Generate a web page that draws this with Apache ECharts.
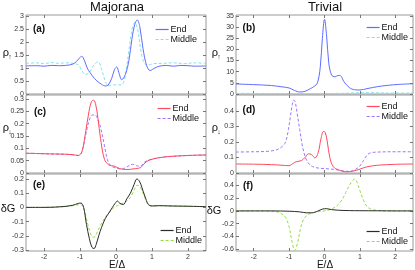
<!DOCTYPE html>
<html><head><meta charset="utf-8">
<script src="https://cdn.jsdelivr.net/npm/echarts@6/dist/echarts.min.js"></script>
<style>html,body{margin:0;padding:0;background:#fff}#c{width:415px;height:270px}</style>
</head><body><div id="c"></div>
<script>
// ---- data ----
const xTicks = [-2, -1, 0, 1, 2];
const aTicks = [0, 0.5, 1, 1.5, 2, 2.5, 3];
const bTicks = [0, 5, 10, 15, 20, 25, 30, 35];
const cTicks = [0, 0.05, 0.1, 0.15, 0.2, 0.25, 0.3];
const dTicks = [0, 0.1, 0.2, 0.3, 0.4];
const eTicks = [-0.3, -0.2, -0.1, 0, 0.1, 0.2];
const fTicks = [-0.6, -0.4, -0.2, 0, 0.2, 0.4];

// (a) Majorana rho_up
const aEndE = [-2.5,-2.2,-2.0,-1.8,-1.6,-1.4,-1.2,-1.1,-1.02,-0.95,-0.88,-0.8,-0.72,-0.6,-0.5,-0.4,-0.3,-0.22,-0.12,-0.04,0.02,0.08,0.16,0.26,0.36,0.44,0.52,0.59,0.66,0.75,0.85,0.95,1.05,1.2,1.4,1.6,1.8,2.0,2.2,2.5];
const aEndY = [1.08,1.09,1.07,1.1,1.09,1.1,1.15,1.25,1.38,1.45,1.3,1.0,0.82,0.6,0.47,0.37,0.31,0.34,0.6,0.95,1.04,0.82,0.55,0.75,1.3,2.1,2.68,2.85,2.6,1.75,1.1,0.9,0.98,1.07,1.1,1.07,1.1,1.09,1.07,1.08];
const aMidE = [-2.5,-2.2,-2.0,-1.8,-1.6,-1.4,-1.2,-1.05,-0.95,-0.85,-0.75,-0.62,-0.5,-0.4,-0.3,-0.22,-0.1,0.05,0.18,0.28,0.36,0.44,0.52,0.6,0.7,0.8,0.9,1.05,1.3,1.6,1.9,2.2,2.5];
const aMidY = [1.18,1.2,1.17,1.21,1.18,1.2,1.18,1.12,0.9,0.75,0.82,1.1,1.24,0.95,0.5,0.32,0.35,0.35,0.38,0.9,1.7,2.45,2.75,2.5,1.6,1.15,1.12,1.17,1.18,1.2,1.17,1.2,1.18];

// (b) Trivial rho_up
const bEndE = [-2.5,-2.0,-1.5,-1.2,-1.0,-0.85,-0.7,-0.55,-0.4,-0.3,-0.2,-0.12,-0.06,0.0,0.06,0.12,0.2,0.3,0.38,0.45,0.55,0.7,0.85,1.0,1.2,1.5,1.8,2.1,2.5];
const bEndY = [4.5,4.2,3.8,3.2,2.7,1.6,0.9,1.2,2.4,3.3,5.0,12,25,33.5,26,14,8.5,7.7,8.3,8.2,5.5,2.9,1.9,1.8,2.4,3.3,3.9,4.3,4.6];
const bMidE = [-2.5,-1.5,-0.5,0.5,1.0,1.3,1.7,2.5];
const bMidY = [0.3,0.25,0.2,0.3,0.55,0.6,0.45,0.4];

// (c) Majorana rho_down
const cEndE = [-2.5,-2.2,-2.0,-1.7,-1.4,-1.2,-1.05,-0.95,-0.85,-0.75,-0.68,-0.62,-0.56,-0.5,-0.43,-0.32,-0.2,-0.05,0.1,0.3,0.5,0.68,0.8,0.92,1.2,1.5,2.0,2.5];
const cEndY = [0.08,0.079,0.078,0.077,0.076,0.074,0.071,0.085,0.16,0.25,0.29,0.295,0.275,0.22,0.14,0.055,0.033,0.028,0.018,0.014,0.017,0.022,0.04,0.052,0.062,0.067,0.071,0.073];
const cMidE = [-2.5,-2.2,-2.0,-1.7,-1.4,-1.2,-1.05,-0.95,-0.85,-0.75,-0.66,-0.58,-0.5,-0.42,-0.32,-0.24,-0.15,0.0,0.15,0.3,0.42,0.5,0.6,0.7,0.8,0.92,1.2,1.5,2.0,2.5];
const cMidY = [0.08,0.079,0.078,0.077,0.076,0.074,0.071,0.085,0.15,0.21,0.235,0.235,0.215,0.18,0.11,0.055,0.03,0.02,0.016,0.024,0.034,0.035,0.028,0.03,0.045,0.053,0.062,0.067,0.071,0.073];

// (d) Trivial rho_down
const dEndE = [-2.5,-2.0,-1.5,-1.2,-1.0,-0.9,-0.8,-0.65,-0.55,-0.45,-0.36,-0.27,-0.18,-0.1,-0.03,0.02,0.08,0.15,0.25,0.4,0.6,0.8,1.0,1.2,1.5,2.0,2.5];
const dEndY = [0.058,0.057,0.054,0.05,0.047,0.06,0.073,0.08,0.1,0.124,0.118,0.097,0.13,0.22,0.268,0.262,0.2,0.1,0.04,0.02,0.008,0.012,0.025,0.04,0.05,0.056,0.058];
const dMidE = [-2.5,-2.0,-1.6,-1.35,-1.2,-1.1,-1.02,-0.96,-0.91,-0.87,-0.83,-0.77,-0.7,-0.62,-0.52,-0.4,-0.25,-0.1,0.1,0.3,0.5,0.7,0.85,1.0,1.1,1.2,1.3,1.5,2.0,2.5];
const dMidY = [0.135,0.137,0.14,0.15,0.17,0.2,0.28,0.37,0.44,0.47,0.46,0.38,0.28,0.17,0.09,0.05,0.035,0.03,0.027,0.022,0.015,0.01,0.02,0.045,0.08,0.115,0.13,0.135,0.137,0.137];

// (e) Majorana deltaG
const eE = [-2.5,-2.0,-1.5,-1.2,-1.05,-0.97,-0.9,-0.82,-0.74,-0.67,-0.61,-0.55,-0.48,-0.4,-0.3,-0.2,-0.1,-0.02,0.04,0.1,0.2,0.3,0.4,0.5,0.58,0.65,0.72,0.8,0.9,1.0,1.2,1.5,2.0,2.5];
const eEndY = [0.0,0.0,0.005,0.015,0.028,0.03,0.0,-0.12,-0.22,-0.28,-0.29,-0.26,-0.2,-0.14,-0.08,-0.04,0.0,0.03,0.045,0.03,0.02,0.06,0.1,0.16,0.2,0.185,0.14,0.08,0.02,0.01,0.012,0.01,0.008,0.005];
const eMidY = [0.0,0.0,0.005,0.012,0.018,0.018,0.0,-0.08,-0.16,-0.205,-0.21,-0.19,-0.15,-0.11,-0.07,-0.04,-0.01,0.005,0.012,0.02,0.03,0.045,0.07,0.12,0.155,0.15,0.12,0.07,0.02,0.01,0.012,0.01,0.008,0.005];

// (f) Trivial deltaG
const fEndE = [-2.5,-1.5,-1.0,-0.7,-0.5,-0.35,-0.2,-0.05,0.05,0.2,0.4,0.7,1.0,1.5,2.0,2.5];
const fEndY = [0,0,-0.005,-0.015,-0.03,-0.03,-0.005,0.03,0.035,0.02,0.01,0.005,0.003,0.002,0,0];
const fMidE = [-2.5,-2.0,-1.5,-1.3,-1.2,-1.1,-1.0,-0.92,-0.84,-0.76,-0.68,-0.6,-0.5,-0.35,-0.15,0.05,0.2,0.35,0.5,0.6,0.7,0.8,0.85,0.92,1.0,1.1,1.2,1.35,1.6,2.0,2.5];
const fMidY = [0,0,-0.005,-0.02,-0.05,-0.1,-0.25,-0.48,-0.62,-0.5,-0.28,-0.14,-0.07,-0.03,-0.01,0.005,0.03,0.08,0.18,0.29,0.4,0.48,0.5,0.45,0.32,0.17,0.07,0.02,0.005,0,0];

// ---- layout ----
const panels = [
  {g:{left:26, top:15, width:180, height:79}, y:[0,3.04], t:aTicks, s:[[aEndE,aEndY],[aMidE,aMidY]], c:['#5f6dff','#7fe2f0'], lab:'(a)', lg:[155,25]},
  {g:{left:236, top:15, width:177, height:79}, y:[0,35.4], t:bTicks, s:[[bEndE,bEndY],[bMidE,bMidY]], c:['#5f6dff','#7fe2f0'], lab:'(b)', lg:[366,23]},
  {g:{left:26, top:95, width:180, height:78}, y:[0,0.316], t:cTicks, s:[[cEndE,cEndY],[cMidE,cMidY]], c:['#ff4a5e','#9f74ff'], lab:'(c)', lg:[157,104]},
  {g:{left:236, top:95, width:177, height:78}, y:[0,0.503], t:dTicks, s:[[dEndE,dEndY],[dMidE,dMidY]], c:['#ff4a5e','#9f74ff'], lab:'(d)', lg:[366,102]},
  {g:{left:26, top:174, width:180, height:77}, y:[-0.307,0.235], t:eTicks, s:[[eE,eEndY],[eE,eMidY]], c:['#2b2b2b','#94de44'], lab:'(e)', lg:[160,226]},
  {g:{left:236, top:174, width:177, height:77}, y:[-0.63,0.58], t:fTicks, s:[[fEndE,fEndY],[fMidE,fMidY]], c:['#2b2b2b','#94de44'], lab:'(f)', lg:[366,227]}
];
const names = ['End','Middle'];
const FONT = 'Liberation Sans';
const grid=[], xAxis=[], yAxis=[], series=[], legend=[];
const tickStyle = {show:true, inside:true, length:3, lineStyle:{color:'#777', width:1}};
const noLine = {show:false, onZero:false};
panels.forEach((p,i)=>{
  grid.push(Object.assign({show:true, borderColor:'#9a9a9a', borderWidth:1, containLabel:false}, p.g));
  const bottomRow = i>=4;
  xAxis.push({type:'value', gridIndex:i, min:-2.5, max:2.5, position:'bottom',
    axisLine:noLine, splitLine:{show:false},
    axisTick:Object.assign({customValues:xTicks}, tickStyle),
    axisLabel:{show:bottomRow, customValues:xTicks, fontSize:7, color:'#333', margin:3, fontFamily:FONT}});
  xAxis.push({type:'value', gridIndex:i, min:-2.5, max:2.5, position:'top',
    axisLine:noLine, splitLine:{show:false},
    axisTick:Object.assign({customValues:xTicks}, tickStyle), axisLabel:{show:false}});
  yAxis.push({type:'value', gridIndex:i, min:p.y[0], max:p.y[1], position:'left',
    axisLine:noLine, splitLine:{show:false},
    axisTick:Object.assign({customValues:p.t}, tickStyle),
    axisLabel:{customValues:p.t, fontSize:7, color:'#333', margin:2, fontFamily:FONT}});
  yAxis.push({type:'value', gridIndex:i, min:p.y[0], max:p.y[1], position:'right',
    axisLine:noLine, splitLine:{show:false},
    axisTick:Object.assign({customValues:p.t}, tickStyle), axisLabel:{show:false}});
  const ldata=[];
  p.s.forEach((pair,k)=>{
    const nm = names[k]+'#'+i;
    ldata.push({name:nm, lineStyle:{color:p.c[k], width:1.2, type: k===0?'solid':[3,2], opacity:1}});
    series.push({type:'line', name:nm, xAxisIndex:2*i, yAxisIndex:2*i, showSymbol:false, symbol:'none',
      smooth:0.35, animation:false, silent:true,
      data: pair[0].map((e,j)=>[e, pair[1][j]]),
      lineStyle:{color:p.c[k], width:1, type: k===0?'solid':[3,2]},
      itemStyle:{color:p.c[k]}, z: k===0?3:2});
  });
  legend.push({data:ldata, orient:'vertical', left:p.lg[0], top:p.lg[1], itemWidth:13, itemHeight:7, itemGap:1,
    padding:0, selectedMode:false, formatter:(n)=>n.split('#')[0],
    itemStyle:{opacity:0, borderWidth:0},
    textStyle:{fontSize:9, color:'#111', fontFamily:FONT, padding:[0,0,0,-3], lineHeight:8}});
});

const txt = (x,y,text,size,extra)=>({type:'text', x:x, y:y, silent:true,
  style:Object.assign({text:text, fontSize:size, fontFamily:FONT, fill:'#111', align:'center', verticalAlign:'middle'}, extra||{})});
const graphic = [
  txt(117,7,'Majorana',13), txt(325,7,'Trivial',13),
  txt(6,53,'ρ',11), txt(10,57,'↑',7),
  txt(6,128,'ρ',11), txt(10,132,'↓',7),
  txt(8,209,'δG',11),
  txt(215,53,'ρ',11), txt(219,57,'↑',7),
  txt(215,128,'ρ',11), txt(219,132,'↓',7),
  txt(214,211,'δG',11),
  txt(117,265,'E/Δ',10), txt(325,265,'E/Δ',10)
];
const labPos = [[39,29],[249,28],[40,112],[249,110],[39,185],[248,186]];
panels.forEach((p,i)=>graphic.push(txt(labPos[i][0],labPos[i][1],p.lab,10,{fontWeight:'bold'})));

const chart = echarts.init(document.getElementById('c'), null, {renderer:'canvas'});
chart.setOption({animation:false, backgroundColor:'#fff', grid, xAxis, yAxis, series, legend, graphic});
</script></body></html>
